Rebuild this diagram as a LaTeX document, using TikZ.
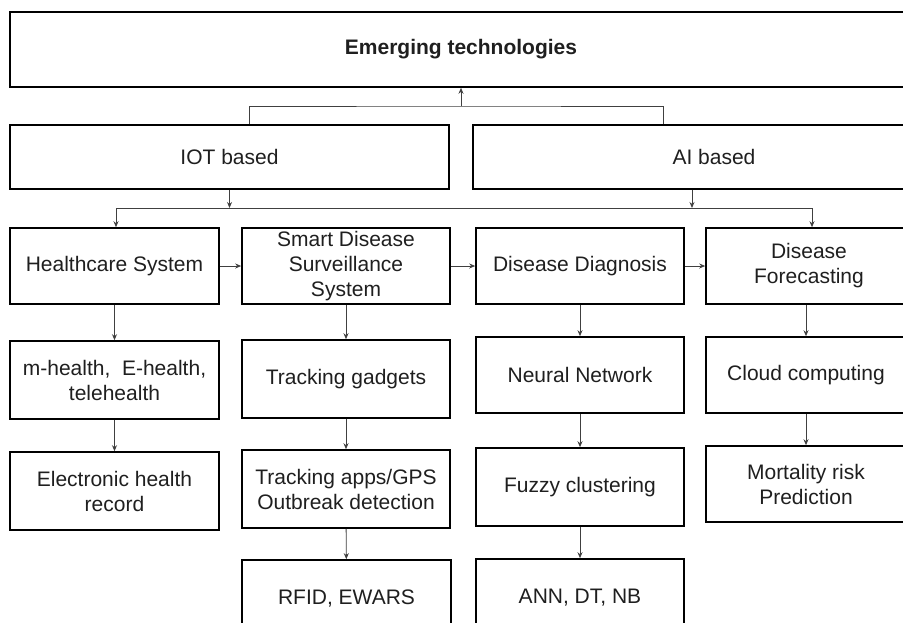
\documentclass[tikz,border=0pt]{standalone}
\usepackage{fontspec}
\setmainfont{Liberation Sans}
\usetikzlibrary{arrows.meta}
\begin{document}
\begin{tikzpicture}[x=1pt,y=-1pt,
  box/.style={draw=black,line width=1.6pt,fill=white,inner sep=0pt,align=center,
              font=\fontsize{21}{25}\selectfont,text=black!88},
  link/.style={draw=black!75,line width=0.9pt},
  arr/.style={link,-{Stealth[length=6pt,width=5pt]}}]
\useasboundingbox (0,0) rectangle (903,622);
\clip (0,0) rectangle (903,622);
\fill[white] (0,0) rectangle (903,622);

% top level
\node[box,minimum width=902pt,minimum height=75pt,font=\fontsize{21}{25}\selectfont\bfseries]
  (emerg) at (461,49.5) {Emerging technologies};

% second level
\node[box,minimum width=439pt,minimum height=64pt] (iot) at (229.5,157) {IOT based};
\node[box,minimum width=482pt,minimum height=64pt] (ai) at (714,157) {AI based};

% third level
\node[box,minimum width=209pt,minimum height=76pt] (hc) at (114.5,266) {Healthcare System};
\node[box,minimum width=208pt,minimum height=76pt] (sds) at (346,266) {Smart Disease\\Surveillance\\System};
\node[box,minimum width=208pt,minimum height=76pt] (dd) at (580,266) {Disease Diagnosis};
\node[box,minimum width=206pt,minimum height=76pt] (df) at (809,266) {Disease\\Forecasting};

% fourth level
\node[box,minimum width=209pt,minimum height=78pt] (mh) at (114.5,380) {m-health, \ E-health,\\telehealth};
\node[box,minimum width=208pt,minimum height=78pt] (tg) at (346,379) {Tracking gadgets};
\node[box,minimum width=208pt,minimum height=76pt] (nn) at (580,375) {Neural Network};
\node[box,minimum width=200pt,minimum height=76pt] (cc) at (806,375) {Cloud computing};

% fifth level
\node[box,minimum width=209pt,minimum height=78pt] (ehr) at (114.5,491) {Electronic health\\record};
\node[box,minimum width=208pt,minimum height=78pt] (ta) at (346,489) {Tracking apps/GPS\\Outbreak detection};
\node[box,minimum width=208pt,minimum height=78pt] (fc) at (580,487) {Fuzzy clustering};
\node[box,minimum width=200pt,minimum height=76pt] (mr) at (806,484) {Mortality risk\\Prediction};

% sixth level
\node[box,minimum width=209pt,minimum height=78pt] (rfid) at (346.5,599) {RFID, EWARS};
\node[box,minimum width=208pt,minimum height=78pt] (ann) at (580,598) {ANN, DT, NB};

% links to the top box
\coordinate (busTop) at (461,106);
\draw[link] ([xshift=19.5pt]iot.north) |- (busTop) -| ([xshift=-51pt]ai.north);
\draw[arr] (busTop) -- (emerg.south);

% bus between second and third level
\coordinate (busMid) at (461,208);
\draw[arr] (iot.south) -- (iot.south |- busMid);
\draw[arr] ([xshift=-22pt]ai.south) -- ([xshift=-22pt]ai.south |- busMid);
\draw[arr] (busMid) -| ([xshift=1.5pt]hc.north);
\draw[arr] (busMid) -| ([xshift=3pt]df.north);

% horizontal chain on the third level
\draw[arr] (hc) -- (sds);
\draw[arr] (sds) -- (dd);
\draw[arr] (dd) -- (df);

% columns
\draw[arr] (hc) -- (mh);
\draw[arr] (mh) -- (ehr);
\draw[arr] (sds) -- (tg);
\draw[arr] (tg) -- (ta);
\draw[arr] (ta) -- (rfid);
\draw[arr] (dd) -- (nn);
\draw[arr] (nn) -- (fc);
\draw[arr] (fc) -- (ann);
\draw[arr] (cc.north |- df.south) -- (cc.north);
\draw[arr] (cc) -- (mr);
\end{tikzpicture}
\end{document}
